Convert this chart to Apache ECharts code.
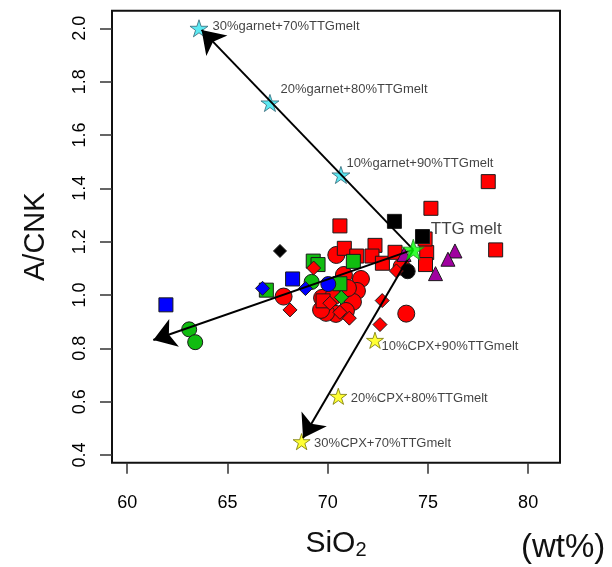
<!DOCTYPE html>
<html>
<head>
<meta charset="utf-8">
<script src="https://cdn.jsdelivr.net/npm/echarts@6/dist/echarts.min.js"></script>
<style>
  html, body { margin: 0; padding: 0; background: #fff; }
  #chart { width: 612px; height: 567px; }
</style>
</head>
<body>
<div id="chart"></div>
<script>
// ---- axis ticks ----
const xTicks = [60, 65, 70, 75, 80];
const yTicks = [0.4, 0.6, 0.8, 1.0, 1.2, 1.4, 1.6, 1.8, 2.0];

// ---- samples: [SiO2 (wt%), A/CNK] ----
const redSquares = [[78.01, 1.425], [78.38, 1.169], [75.15, 1.325], [70.61, 1.259], [70.83, 1.175],
  [71.45, 1.146], [72.36, 1.186], [72.21, 1.146], [72.73, 1.119], [73.36, 1.160], [74.94, 1.159],
  [74.88, 1.114], [69.77, 0.978], [74.86, 1.210]];
const redCircles = [[70.43, 1.150], [67.80, 0.994], [73.69, 1.106], [73.92, 0.930], [71.66, 1.060],
  [71.46, 1.015], [71.26, 0.974], [70.91, 0.940], [70.41, 0.929], [69.92, 0.933], [69.67, 0.944],
  [69.72, 0.989], [70.81, 1.075], [71.01, 1.026], [70.27, 0.993]];
const redDiamonds = [[69.30, 1.101], [68.12, 0.944], [70.11, 0.969], [70.61, 0.935], [71.08, 0.913],
  [72.72, 0.979], [72.61, 0.889], [73.43, 1.090]];
const greenSquares = [[69.28, 1.127], [69.52, 1.114], [71.28, 1.126], [70.61, 1.042], [66.94, 1.018]];
const greenCircles = [[69.20, 1.049], [63.09, 0.871], [63.39, 0.823]];
const greenDiamonds = [[70.68, 0.991]];
const blueSquares = [[68.25, 1.060], [61.93, 0.963]];
const blueCircles = [[70.03, 1.041]];
const blueDiamonds = [[66.75, 1.025], [68.89, 1.024]];
const blackSquares = [[73.33, 1.276], [74.73, 1.219]];
const blackCircles = [[73.99, 1.089]];
const blackDiamonds = [[67.62, 1.165]];
const purpleTriangles = [[76.35, 1.165], [76.00, 1.134], [75.38, 1.080], [73.81, 1.152]];

// ---- mixing model ----
const ttgMelt = [[74.27, 1.17]];
const ttgLabel = ['TTG melt'];
const garnetMix = [[70.66, 1.45], [67.12, 1.72], [63.58, 2.00]];
const garnetLabels = ['10%garnet+90%TTGmelt', '20%garnet+80%TTGmelt', '30%garnet+70%TTGmelt'];
const cpxMix = [[72.36, 0.83], [70.53, 0.62], [68.70, 0.45]];
const cpxLabels = ['10%CPX+90%TTGmelt', '20%CPX+80%TTGmelt', '30%CPX+70%TTGmelt'];
// trend arrows run from the TTG melt to these tips
const arrowEnds = [[63.71, 1.994], [68.77, 0.464], [61.30, 0.831]];

const FONT = '"Liberation Sans", Arial, Helvetica, sans-serif';
const STAR = 'path://M0,-10L2.245,-3.09L9.511,-3.09L3.633,1.18L5.878,8.09L0,3.82L-5.878,8.09L-3.633,1.18L-9.511,-3.09L-2.245,-3.09Z';

function points(name, data, symbol, size, color, z) {
  return {
    name, type: 'scatter', data, symbol, symbolSize: size, z: z || 2,
    itemStyle: { color, borderColor: '#1a1a1a', borderWidth: 1, opacity: 1 },
    emphasis: { disabled: true }, animation: false
  };
}

function labelledStars(name, data, labels, size, color, edge, offsets, fontSize, z) {
  return {
    name, type: 'scatter', symbol: STAR, symbolKeepAspect: true, symbolSize: size, z,
    itemStyle: { color, borderColor: edge, borderWidth: 1 },
    data: data.map((v, i) => ({
      value: v,
      label: {
        show: true, formatter: labels[i],
        position: [size / 2 + offsets[i][0], size / 2 + offsets[i][1]],
        align: 'left', verticalAlign: 'middle',
        fontSize, fontFamily: FONT, color: '#111'
      }
    })),
    emphasis: { disabled: true }, animation: false
  };
}

const chart = echarts.init(document.getElementById('chart'), null, { renderer: 'canvas' });

chart.setOption({
  backgroundColor: '#fff',
  animation: false,
  grid: {
    left: 112, top: 10.7, right: 52, bottom: 104.3,
    show: true, borderColor: '#111', borderWidth: 2, backgroundColor: 'transparent'
  },
  xAxis: {
    type: 'value', min: 59.24, max: 81.59,
    axisLine: { show: false }, splitLine: { show: false },
    axisTick: { show: true, customValues: xTicks, length: 11, lineStyle: { color: '#333', width: 1.5 } },
    axisLabel: { customValues: xTicks, margin: 31, fontSize: 18, color: '#000', fontFamily: FONT },
    name: '{m|SiO}{s|2}', nameLocation: 'middle', nameGap: 64,
    nameTextStyle: {
      color: '#111', fontFamily: FONT,
      rich: {
        m: { fontSize: 30, lineHeight: 34, fontFamily: FONT, color: '#111' },
        s: { fontSize: 20, lineHeight: 14, verticalAlign: 'bottom', fontFamily: FONT, color: '#111' }
      }
    }
  },
  yAxis: {
    type: 'value', min: 0.371, max: 2.066,
    axisLine: { show: false }, splitLine: { show: false },
    axisTick: { show: true, customValues: yTicks, length: 12, lineStyle: { color: '#333', width: 1.5 } },
    axisLabel: {
      customValues: yTicks, rotate: 90, margin: 23, fontSize: 18, color: '#000', fontFamily: FONT,
      formatter: v => v.toFixed(1)
    },
    name: 'A/CNK', nameLocation: 'middle', nameRotate: 90, nameGap: 62,
    nameTextStyle: { fontSize: 29, color: '#111', fontFamily: FONT }
  },
  graphic: [{
    type: 'text', left: 521, top: 531,
    style: { text: '(wt%)', fontSize: 33, fontFamily: FONT, fill: '#111' }
  }],
  series: [
    points('red circles', redCircles, 'circle', 17, '#ff0000'),
    points('red squares', redSquares, 'rect', 14, '#ff0000'),
    points('green squares', greenSquares, 'rect', 14, '#10bc10'),
    points('blue squares', blueSquares, 'rect', 14, '#0000ff'),
    points('black squares', blackSquares, 'rect', 14, '#000000'),
    points('green circles', greenCircles, 'circle', 15, '#10bc10'),
    points('blue circles', blueCircles, 'circle', 15, '#0000ff'),
    points('black circles', blackCircles, 'circle', 15, '#000000'),
    points('red diamonds', redDiamonds, 'diamond', 14, '#ff0000'),
    points('green diamonds', greenDiamonds, 'diamond', 14, '#10bc10'),
    points('blue diamonds', blueDiamonds, 'diamond', 14, '#0000ff'),
    points('black diamonds', blackDiamonds, 'diamond', 13, '#000000'),
    points('purple triangles', purpleTriangles, 'triangle', 14, '#a000a0'),
    labelledStars('garnet mixing', garnetMix, garnetLabels, 18, '#33e3ef', '#336677',
      [[6, -11], [11, -13], [14, -2]], 13, 3),
    labelledStars('CPX mixing', cpxMix, cpxLabels, 17, '#ffff00', '#777700',
      [[7, 6], [13, 2], [13, 2]], 13, 3),
    {
      name: 'trends', type: 'lines', coordinateSystem: 'cartesian2d', z: 4,
      symbol: ['none', 'arrow'], symbolSize: 22,
      lineStyle: { color: '#000', width: 2, opacity: 1 },
      itemStyle: { color: '#000' },
      data: arrowEnds.map(e => ({ coords: [ttgMelt[0], e] })),
      emphasis: { disabled: true }, animation: false
    },
    labelledStars('TTG melt', ttgMelt, ttgLabel, 22, '#00ff00', '#228822', [[18, -20]], 17, 5)
  ]
});
</script>
</body>
</html>
